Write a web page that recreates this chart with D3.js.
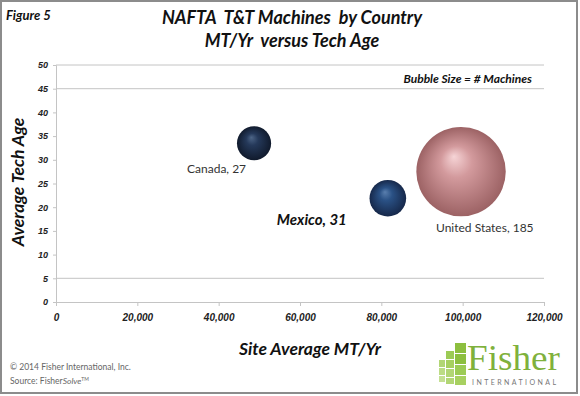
<!DOCTYPE html>
<html lang="en">
<head>
  <meta charset="UTF-8">
  <title>NAFTA T&T Machines by Country</title>
  <script src="https://d3js.org/d3.v7.min.js"></script>
  <style>
    body { margin: 0; background: white; }
    svg { display: block; font-family: Lato, "Open Sans", sans-serif; }
    .tick text { font-weight: bold; font-style: italic; fill: #222; }
  </style>
</head>
<body>
  <svg id="chart" width="580" height="396"></svg>

  <script>
    const countries = ["Canada", "Mexico", "United States"];
    const mtPerYear = [48700, 81600, 99600];
    const techAge = [33.5, 21.9, 27.5];
    const machines = [27, 31, 185];
    const xTicks = [0, 20000, 40000, 60000, 80000, 100000, 120000];
    const yTicks = [0, 5, 10, 15, 20, 25, 30, 35, 40, 45, 50];
    const gridValues = [5, 45, 50];

    const svg = d3.select("#chart");
    const plotLeft = 56, plotRight = 544, plotTop = 65, plotBottom = 302;

    const x = d3.scaleLinear().domain([0, 120000]).range([plotLeft, plotRight]);
    const y = d3.scaleLinear().domain([0, 50]).range([plotBottom, plotTop]);
    const r = d3.scaleSqrt().domain([0, 185]).range([0, 44.7]);

    // frame
    svg.append("rect")
      .attr("x", 1).attr("y", 1).attr("width", 576).attr("height", 392)
      .attr("fill", "white").attr("stroke", "#8c8c8c").attr("stroke-width", 2);

    // gradients for the 3d bubbles
    const defs = svg.append("defs");
    function ball(id, light, mid, dark) {
      const g = defs.append("radialGradient").attr("id", id)
        .attr("cx", "50%").attr("cy", "50%").attr("r", "50%")
        .attr("fx", "42%").attr("fy", "33%");
      g.append("stop").attr("offset", "0%").attr("stop-color", light);
      g.append("stop").attr("offset", "35%").attr("stop-color", mid);
      g.append("stop").attr("offset", "100%").attr("stop-color", dark);
    }
    ball("navy", "#4d6587", "#25395a", "#101a2c");
    ball("blue", "#5a7fae", "#2a5185", "#16284a");
    ball("pink", "#f6d4d6", "#d39a9d", "#9c6264");
    const fills = ["url(#navy)", "url(#blue)", "url(#pink)"];

    // gridlines
    svg.append("g").selectAll("line").data(gridValues).join("line")
      .attr("x1", plotLeft).attr("x2", plotRight)
      .attr("y1", d => y(d)).attr("y2", d => y(d))
      .attr("stroke", "#c4c4c4").attr("stroke-width", 1);

    // axes
    const xAxis = svg.append("g")
      .attr("transform", `translate(0,${plotBottom})`)
      .call(d3.axisBottom(x).tickValues(xTicks).tickSize(4).tickPadding(8)
        .tickFormat(d3.format(",")));
    xAxis.selectAll("text").attr("font-size", 10);

    const yAxis = svg.append("g")
      .attr("transform", `translate(${plotLeft},0)`)
      .call(d3.axisLeft(y).tickValues(yTicks).tickSize(3).tickPadding(5));
    yAxis.selectAll("text").attr("font-size", 9);

    svg.selectAll(".domain, .tick line").attr("stroke", "#c4c4c4");

    // bubbles
    const data = countries.map((c, i) => ({
      name: c, mt: mtPerYear[i], age: techAge[i], n: machines[i], fill: fills[i]
    }));

    svg.append("g").selectAll("circle").data(data).join("circle")
      .attr("cx", d => x(d.mt))
      .attr("cy", d => y(d.age))
      .attr("r", d => r(d.n))
      .attr("fill", d => d.fill);

    // bubble labels
    const labels = [
      { i: 0, dx: -67, dy: 30, size: 12, bold: false },
      { i: 1, dx: -111, dy: 27, size: 15, bold: true },
      { i: 2, dx: -25, dy: 60, size: 12, bold: false }
    ];
    svg.append("g").selectAll("text").data(labels).join("text")
      .attr("x", d => x(data[d.i].mt) + d.dx)
      .attr("y", d => y(data[d.i].age) + d.dy)
      .attr("font-size", d => d.size)
      .attr("font-weight", d => d.bold ? "bold" : "normal")
      .attr("font-style", d => d.bold ? "italic" : "normal")
      .attr("fill", d => d.bold ? "#111" : "#333")
      .text(d => `${data[d.i].name}, ${data[d.i].n}`);

    // titles
    const bi = sel => sel.attr("font-weight", "bold").attr("font-style", "italic").attr("fill", "#111");
    svg.append("text").attr("x", 6).attr("y", 20).attr("font-size", 13).call(bi).text("Figure 5");
    svg.append("text").attr("x", 292).attr("y", 24).attr("font-size", 18)
      .attr("text-anchor", "middle").attr("xml:space", "preserve").call(bi)
      .text("NAFTA  T&T Machines  by Country");
    svg.append("text").attr("x", 292).attr("y", 47).attr("font-size", 18)
      .attr("text-anchor", "middle").attr("xml:space", "preserve").call(bi)
      .text("MT/Yr  versus Tech Age");
    svg.append("text").attr("x", 532).attr("y", 83).attr("font-size", 12)
      .attr("text-anchor", "end").call(bi).text("Bubble Size = # Machines");
    svg.append("text").attr("x", 310).attr("y", 355).attr("font-size", 17.5)
      .attr("text-anchor", "middle").call(bi).text("Site Average MT/Yr");
    svg.append("text").attr("transform", "translate(24,182) rotate(-90)")
      .attr("font-size", 17.5).attr("text-anchor", "middle").call(bi).text("Average Tech Age");

    // footer
    svg.append("text").attr("x", 10).attr("y", 370).attr("font-size", 8.5)
      .attr("fill", "#666").text("© 2014 Fisher International, Inc.");
    const src = svg.append("text").attr("x", 10).attr("y", 384).attr("font-size", 8.5).attr("fill", "#666");
    src.append("tspan").text("Source: Fisher");
    src.append("tspan").attr("font-style", "italic").text("Solve");
    src.append("tspan").attr("font-size", 5).attr("dy", -3).text("TM");

    // logo
    const logo = svg.append("g");
    const blocks = [
      [455, 343, 11, 10, "#8dbf3f"], [455, 354, 11, 10, "#8dbf3f"], [455, 365, 11, 10, "#9ccb55"], [455, 376, 11, 9, "#a7d060"],
      [446, 351, 8, 8, "#9ccb55"], [446, 360, 8, 8, "#a7d060"], [446, 369, 8, 8, "#b2d675"], [446, 378, 8, 6, "#b2d675"],
      [439, 360, 6, 7, "#b2d675"], [439, 368, 6, 7, "#bcdc85"], [439, 376, 6, 6, "#c4e093"]
    ];
    logo.selectAll("rect").data(blocks).join("rect")
      .attr("x", d => d[0]).attr("y", d => d[1]).attr("width", d => d[2]).attr("height", d => d[3])
      .attr("fill", d => d[4]);
    logo.append("text").attr("x", 467).attr("y", 370).attr("font-size", 35)
      .attr("font-family", "'Liberation Serif', 'DejaVu Serif', serif")
      .attr("fill", "#7fb13c").attr("textLength", 93).attr("lengthAdjust", "spacingAndGlyphs").text("Fisher");
    logo.append("text").attr("x", 472).attr("y", 385).attr("font-size", 7)
      .attr("fill", "#777").attr("letter-spacing", 2).attr("textLength", 86).text("INTERNATIONAL");
  </script>
</body>
</html>
